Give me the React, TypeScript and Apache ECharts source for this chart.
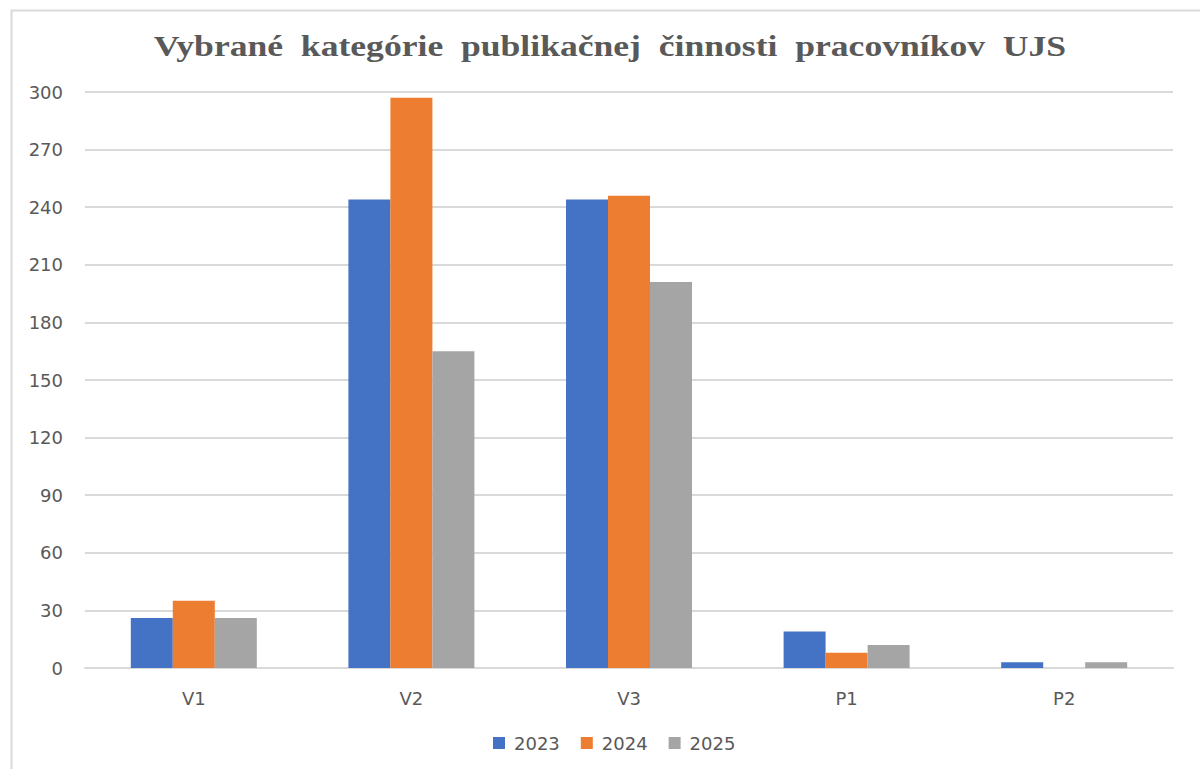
import React, { useEffect, useRef } from "react";
import * as echarts from "echarts";

const categories = ["V1", "V2", "V3", "P1", "P2"];
const seriesNames = ["2023", "2024", "2025"];
const values2023 = [26, 244, 244, 19, 3];
const values2024 = [35, 297, 246, 8, 0];
const values2025 = [26, 165, 201, 12, 3];
const colors = ["#4472C4", "#ED7D31", "#A5A5A5"];
const titleText = "Vybrané  kategórie  publikačnej  činnosti  pracovníkov  UJS";

export default function App() {
  const ref = useRef<HTMLDivElement>(null);
  useEffect(() => {
    if (!ref.current) return;
    const chart = echarts.init(ref.current, null, { renderer: "svg" });
    const data = [values2023, values2024, values2025];
    const labelFont = { fontFamily: "DejaVu Sans", fontSize: 18, color: "#595959" };
    chart.setOption({
      animation: false,
      backgroundColor: "#ffffff",
      graphic: [
        {
          type: "rect",
          left: 9,
          top: 8,
          shape: { x: 0, y: 0, width: 1250, height: 800 },
          style: { fill: "none", stroke: "#d9d9d9", lineWidth: 2 },
          silent: true,
        },
        {
          type: "text",
          x: 610,
          y: 46,
          scaleX: 1.187,
          style: {
            text: titleText,
            fontFamily: "Liberation Serif",
            fontWeight: "bold",
            fontSize: 30,
            fill: "#595959",
            align: "center",
            verticalAlign: "middle",
          },
          silent: true,
        },
      ],
      legend: {
        data: seriesNames,
        top: 729,
        left: 488,
        itemWidth: 12,
        itemHeight: 12,
        itemGap: 21,
        icon: "rect",
        textStyle: { ...labelFont, padding: [0, 0, 0, 4] },
      },
      grid: { left: 85, right: 27, top: 92, bottom: 101, containLabel: false },
      xAxis: {
        type: "category",
        data: categories,
        axisLine: { lineStyle: { color: "#d9d9d9", width: 2 } },
        axisTick: { show: false },
        axisLabel: { ...labelFont, margin: 21 },
      },
      yAxis: {
        type: "value",
        min: 0,
        max: 300,
        interval: 30,
        axisLine: { show: false },
        axisTick: { show: false },
        splitLine: { lineStyle: { color: "#d9d9d9", width: 2 } },
        axisLabel: { ...labelFont, margin: 22 },
      },
      series: seriesNames.map((name, i) => ({
        name,
        type: "bar",
        data: data[i],
        barWidth: 42,
        barGap: "0%",
        itemStyle: { color: colors[i] },
      })),
    });
    return () => chart.dispose();
  }, []);
  return (
    <div
      ref={ref}
      style={{ position: "fixed", left: 0, top: 0, width: 1200, height: 769 }}
    />
  );
}
